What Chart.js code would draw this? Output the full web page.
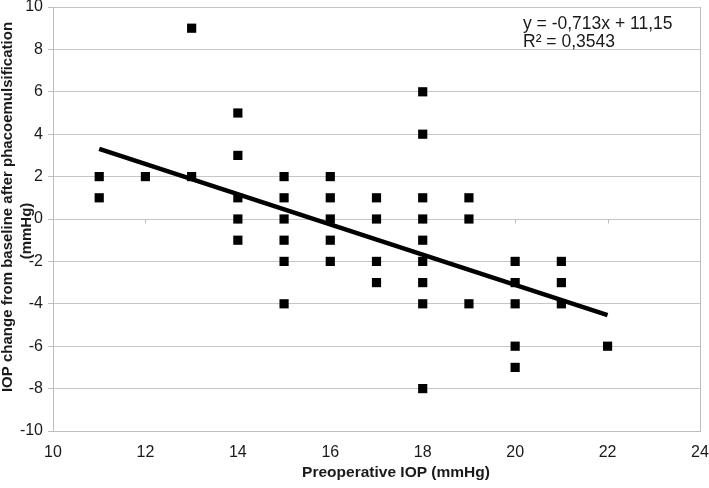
<!DOCTYPE html>
<html>
<head>
<meta charset="utf-8">
<script src="https://cdn.jsdelivr.net/npm/chart.js@4.4.0/dist/chart.umd.min.js"></script>
<style>
  html, body { margin: 0; padding: 0; background: #fff; }
  #wrap { width: 709px; height: 488px; }
</style>
</head>
<body>
<div id="wrap"><canvas id="iopChart" width="709" height="488"></canvas></div>
<script>
// Preoperative IOP (x) vs IOP change (y)
const preopIOP = [11, 11, 12, 13, 13,
  14, 14, 14, 14, 14,
  15, 15, 15, 15, 15, 15,
  16, 16, 16, 16, 16,
  17, 17, 17, 17,
  18, 18, 18, 18, 18, 18, 18, 18, 18,
  19, 19, 19,
  20, 20, 20, 20, 20,
  21, 21, 21,
  22];
const iopChange = [2, 1, 2, 9, 2,
  5, 3, 1, 0, -1,
  2, 1, 0, -1, -2, -4,
  2, 1, 0, -1, -2,
  1, 0, -2, -3,
  6, 4, 1, 0, -1, -2, -3, -4, -8,
  1, 0, -4,
  -2, -3, -4, -6, -7,
  -2, -3, -4,
  -6];

// linear trend line endpoints (y = -0,713x + 11,15)
const trendX = [11, 22];
const trendY = [3.307, -4.536];

const eqLines = ['y = -0,713x + 11,15', 'R\u00b2 = 0,3543'];
const xTitle = 'Preoperative IOP (mmHg)';
const yTitleLines = ['IOP change from baseline after phacoemulsification', '(mmHg)'];

const FONT = '"Liberation Sans", Arial, sans-serif';

const scatterData = preopIOP.map((x, i) => ({ x: x, y: iopChange[i] }));
const trendData = trendX.map((x, i) => ({ x: x, y: trendY[i] }));

// extra decorations: right border, x ticks on zero line, titles, equation
const decorPlugin = {
  id: 'decor',
  beforeDatasetsDraw(chart) {
    const ctx = chart.ctx;
    const area = chart.chartArea;
    const xs = chart.scales.x, ys = chart.scales.y;
    ctx.save();
    ctx.strokeStyle = '#bdbdbd';
    ctx.lineWidth = 1;
    // right border
    ctx.beginPath();
    ctx.moveTo(Math.round(area.right) + 0.5, area.top);
    ctx.lineTo(Math.round(area.right) + 0.5, area.bottom);
    ctx.stroke();
    // small tick marks on the zero line
    const y0 = Math.round(ys.getPixelForValue(0)) + 0.5;
    for (let v = 12; v <= 22; v += 2) {
      const px = Math.round(xs.getPixelForValue(v)) + 0.5;
      ctx.beginPath();
      ctx.moveTo(px, y0);
      ctx.lineTo(px, y0 + 4);
      ctx.stroke();
    }
    ctx.restore();
  },
  afterDraw(chart) {
    const ctx = chart.ctx;
    ctx.save();
    ctx.fillStyle = '#1a1a1a';
    ctx.textBaseline = 'middle';
    ctx.textAlign = 'center';
    // x title
    ctx.font = 'bold 15.5px ' + FONT;
    ctx.fillText(xTitle, 396, 473);
    // y title (rotated)
    ctx.font = 'bold 15px ' + FONT;
    ctx.save();
    ctx.translate(8, 207);
    ctx.rotate(-Math.PI / 2);
    ctx.fillText(yTitleLines[0], 0, 0);
    ctx.restore();
    ctx.save();
    ctx.translate(27, 231);
    ctx.rotate(-Math.PI / 2);
    ctx.fillText(yTitleLines[1], 0, 0);
    ctx.restore();
    // equation
    ctx.font = '17.5px ' + FONT;
    ctx.textAlign = 'left';
    ctx.fillText(eqLines[0], 523, 24);
    ctx.fillText(eqLines[1], 523, 42);
    ctx.restore();
  }
};

const ctx = document.getElementById('iopChart').getContext('2d');
const iopChart = new Chart(ctx, {
  type: 'scatter',
  data: {
    datasets: [
      {
        label: 'Trend',
        type: 'line',
        data: trendData,
        borderColor: '#000',
        borderWidth: 4.5,
        pointRadius: 0,
        fill: false,
        order: 0
      },
      {
        label: 'IOP',
        data: scatterData,
        pointStyle: 'rect',
        pointRadius: 6.5,
        pointHoverRadius: 6.5,
        backgroundColor: '#000',
        borderColor: '#000',
        borderWidth: 0,
        order: 1
      }
    ]
  },
  options: {
    responsive: false,
    animation: false,
    layout: { padding: { top: 7, right: 9, left: 0, bottom: 0 } },
    plugins: {
      legend: { display: false },
      tooltip: { enabled: false }
    },
    scales: {
      x: {
        type: 'linear',
        min: 10,
        max: 24,
        afterFit(scale) {
          scale.height = 57;
          scale.paddingLeft = 0;
          scale.paddingRight = 0;
        },
        border: { display: true, color: '#bdbdbd' },
        grid: { display: false, drawTicks: false },
        ticks: {
          stepSize: 2,
          padding: 12,
          color: '#1a1a1a',
          font: { family: FONT, size: 16 },
          maxRotation: 0
        }
      },
      y: {
        min: -10,
        max: 10,
        afterFit(scale) {
          scale.width = 53;
          scale.paddingTop = 0;
          scale.paddingBottom = 0;
        },
        border: { display: true, color: '#bdbdbd' },
        grid: { color: '#c6c6c6', tickLength: 5, tickColor: '#bdbdbd' },
        ticks: {
          stepSize: 2,
          padding: 5,
          color: '#1a1a1a',
          font: { family: FONT, size: 16 }
        }
      }
    }
  },
  plugins: [decorPlugin]
});
</script>
</body>
</html>
